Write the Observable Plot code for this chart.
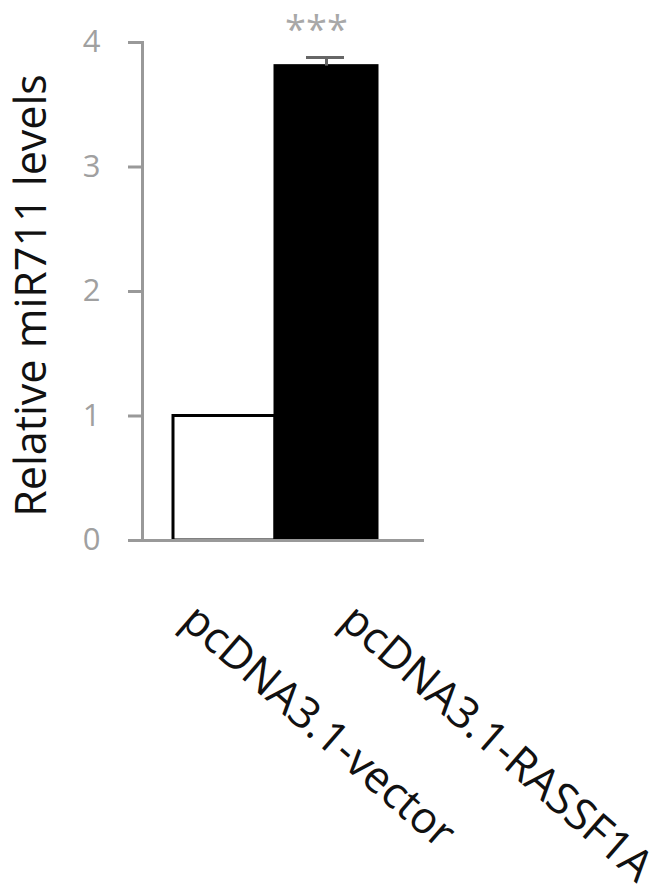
<!DOCTYPE html>
<html>
<head>
<meta charset="utf-8">
<script src="https://cdn.jsdelivr.net/npm/d3@7"></script>
<script src="https://cdn.jsdelivr.net/npm/@observablehq/plot@0.6"></script>
<style>
  html, body { margin: 0; padding: 0; background: #fff; }
  #chart svg { display: block; }
</style>
</head>
<body>
<div id="chart"></div>
<script>
const categories = ["pcDNA3.1-vector", "pcDNA3.1-RASSF1A"];
const values = [1.0, 3.81];
const errors = [0, 0.07];
const fills = ["white", "black"];
const significance = ["", "***"];
const yTicks = [0, 1, 2, 3, 4];
const yLabel = "Relative miR711 levels";

const data = categories.map((c, i) => ({
  group: c, value: values[i], err: errors[i], fill: fills[i], sig: significance[i]
}));
const errData = data.filter(d => d.err > 0);
const sigData = data.filter(d => d.sig);

const font = "Open Sans, sans-serif";

const chart = Plot.plot({
  width: 650,
  height: 884,
  marginLeft: 142,
  marginRight: 226,
  marginTop: 42,
  marginBottom: 344,
  style: { fontFamily: font, background: "white", overflow: "visible" },
  x: { domain: categories, range: [173, 377], padding: 0, axis: null },
  y: { domain: [0, 4], axis: null },
  marks: [
    Plot.barY(data, {
      x: "group", y: "value", fill: "fill",
      stroke: "black", strokeWidth: 3
    }),
    Plot.ruleX(errData, {
      x: "group", y1: "value", y2: d => d.value + d.err,
      stroke: "#666", strokeWidth: 3
    }),
    Plot.tickY(errData, {
      x: "group", y: d => d.value + d.err,
      stroke: "#666", strokeWidth: 3, insetLeft: 31, insetRight: 33
    }),
    Plot.text(sigData, {
      x: "group", y: d => d.value + d.err, text: "sig",
      dy: -27, dx: -10, fontSize: 38, fill: "#a8a8a8",
      lineAnchor: "middle", fontFamily: font
    }),
    Plot.ruleY([0], { stroke: "#999", strokeWidth: 3 }),
    Plot.frame({ anchor: "left", stroke: "#999", strokeWidth: 3 }),
    Plot.axisY(yTicks, {
      anchor: "left", tickSize: 14, tickPadding: 28, tickFormat: d => String(d),
      fontSize: 31, color: "#a0a0a0", stroke: "#999", strokeWidth: 3, label: null
    }),
    Plot.text([yLabel], {
      frameAnchor: "left", rotate: -90, dx: -110, dy: 4,
      fontSize: 43, fill: "#111", textAnchor: "middle", lineAnchor: "middle",
      fontFamily: font
    }),
    Plot.text(data.slice(0, 1), {
      x: "group", text: "group", frameAnchor: "bottom",
      rotate: 41, textAnchor: "start", lineAnchor: "top",
      dy: 60, dx: -25, fontSize: 44, fill: "#111", fontFamily: font
    }),
    Plot.text(data.slice(1, 2), {
      x: "group", text: "group", frameAnchor: "bottom",
      rotate: 41, textAnchor: "start", lineAnchor: "top",
      dy: 60, dx: 32, fontSize: 44, fill: "#111", fontFamily: font
    })
  ]
});
document.getElementById("chart").appendChild(chart);
</script>
</body>
</html>
